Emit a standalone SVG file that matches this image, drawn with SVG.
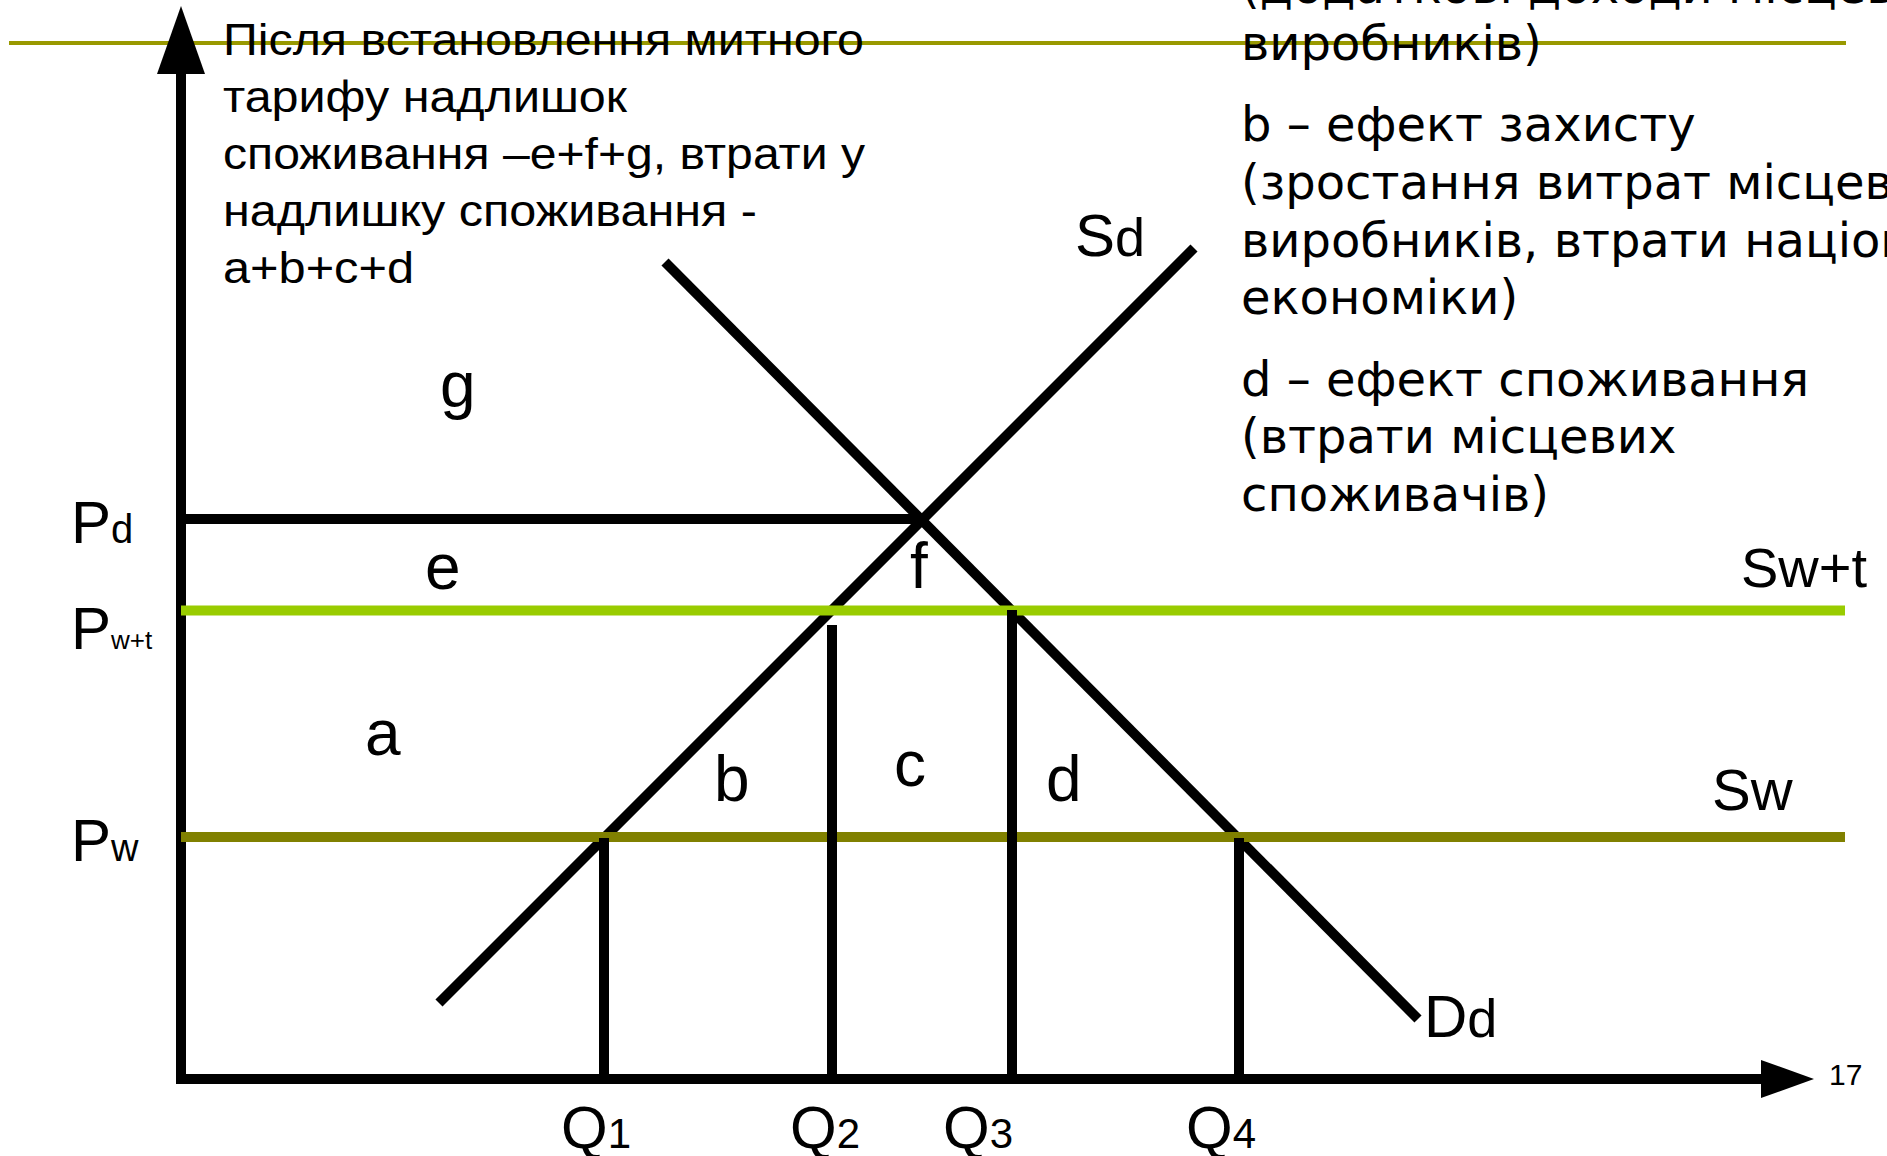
<svg xmlns="http://www.w3.org/2000/svg" width="1887" height="1156" viewBox="0 0 1887 1156">
<style>
.ln{stroke:#000;stroke-width:10;fill:none}
.gr{stroke:#99CC00;stroke-width:10}
.ol{stroke:#808000;stroke-width:10}
.a{font-family:"Liberation Sans",Arial,sans-serif;fill:#000}
.nl{font-family:"Liberation Sans",Arial,sans-serif;font-size:45px;fill:#000}
.v{font-family:"DejaVu Sans",Verdana,sans-serif;font-size:48px;fill:#000}
.lbl{font-family:"Liberation Sans",Arial,sans-serif;font-size:64px;fill:#000}
</style>
<rect width="1887" height="1156" fill="#fff"/>
<line id="top-rule" x1="9" y1="43" x2="1846" y2="43" stroke="#999900" stroke-width="4"/>
<g id="axes">
<line class="ln" x1="181" y1="70" x2="181" y2="1084"/>
<polygon points="181,6 157,74 205,74" fill="#000"/>
<line class="ln" x1="176" y1="1079" x2="1765" y2="1079"/>
<polygon points="1814,1079 1761,1060 1761,1098" fill="#000"/>
</g>
<g id="connectors">
<line id="supply" class="ln" x1="439" y1="1003" x2="1194" y2="248"/>
<line id="demand" class="ln" x1="665" y1="262" x2="1418" y2="1019"/>
<line id="pd-line" class="ln" x1="181" y1="519" x2="925" y2="519"/>
<line id="swt-line" class="gr" x1="181" y1="610.5" x2="1845" y2="610.5"/>
<line id="sw-line" class="ol" x1="181" y1="837" x2="1845" y2="837"/>
<line id="q1-line" class="ln" x1="604" y1="838" x2="604" y2="1079"/>
<line id="q2-line" class="ln" x1="832" y1="625" x2="832" y2="1079"/>
<line id="q3-line" class="ln" x1="1012" y1="610" x2="1012" y2="1079"/>
<line id="q4-line" class="ln" x1="1239" y1="838" x2="1239" y2="1079"/>
</g>
<g id="note-left">
<text class="nl" x="223" y="55" textLength="641" lengthAdjust="spacingAndGlyphs">Після встановлення митного</text>
<text class="nl" x="223" y="112" textLength="404" lengthAdjust="spacingAndGlyphs">тарифу надлишок</text>
<text class="nl" x="223" y="169" textLength="642" lengthAdjust="spacingAndGlyphs">споживання –e+f+g, втрати у</text>
<text class="nl" x="223" y="226" textLength="534" lengthAdjust="spacingAndGlyphs">надлишку споживання -</text>
<text class="nl" x="223" y="283" textLength="191" lengthAdjust="spacingAndGlyphs">a+b+c+d</text>
</g>
<g id="note-right">
<text class="v">
<tspan x="1241" y="3">(додаткові доходи місцеви</tspan>
<tspan x="1241" y="60">виробників)</tspan>
<tspan x="1241" y="141">b – ефект захисту</tspan>
<tspan x="1241" y="199">(зростання витрат місцеви</tspan>
<tspan x="1241" y="257">виробників, втрати націон</tspan>
<tspan x="1241" y="314">економіки)</tspan>
<tspan x="1241" y="396">d – ефект споживання</tspan>
<tspan x="1241" y="453">(втрати місцевих</tspan>
<tspan x="1241" y="511">споживачів)</tspan>
</text>
</g>
<g id="price-labels">
<text id="pd" class="a" x="71" y="543"><tspan font-size="60">P</tspan><tspan font-size="40">d</tspan></text>
<text id="pwt" class="a" x="71" y="649"><tspan font-size="60">P</tspan><tspan font-size="26">w+t</tspan></text>
<text id="pw" class="a" x="71" y="861"><tspan font-size="60">P</tspan><tspan font-size="38">w</tspan></text>
</g>
<g id="curve-labels">
<text id="sd" class="a" x="1075" y="256"><tspan font-size="60">S</tspan><tspan font-size="54">d</tspan></text>
<text id="swt" class="a" x="1741" y="587" font-size="56">Sw+t</text>
<text id="sw" class="a" x="1712" y="810" font-size="58">Sw</text>
<text id="dd" class="a" x="1424" y="1037"><tspan font-size="60">D</tspan><tspan font-size="54">d</tspan></text>
</g>
<g id="area-labels">
<text class="lbl" x="440" y="407">g</text>
<text class="lbl" x="425" y="589">e</text>
<text class="lbl" x="910" y="588">f</text>
<text class="lbl" x="365" y="755">a</text>
<text class="lbl" x="714" y="801">b</text>
<text class="lbl" x="894" y="786">c</text>
<text class="lbl" x="1046" y="801">d</text>
</g>
<g id="quantity-labels">
<text class="a" x="561" y="1148"><tspan font-size="60">Q</tspan><tspan font-size="42">1</tspan></text>
<text class="a" x="790" y="1148"><tspan font-size="60">Q</tspan><tspan font-size="42">2</tspan></text>
<text class="a" x="943" y="1148"><tspan font-size="60">Q</tspan><tspan font-size="42">3</tspan></text>
<text class="a" x="1186" y="1148"><tspan font-size="60">Q</tspan><tspan font-size="42">4</tspan></text>
</g>
<text id="page-num" class="a" x="1829" y="1085" font-size="30">17</text>
</svg>
